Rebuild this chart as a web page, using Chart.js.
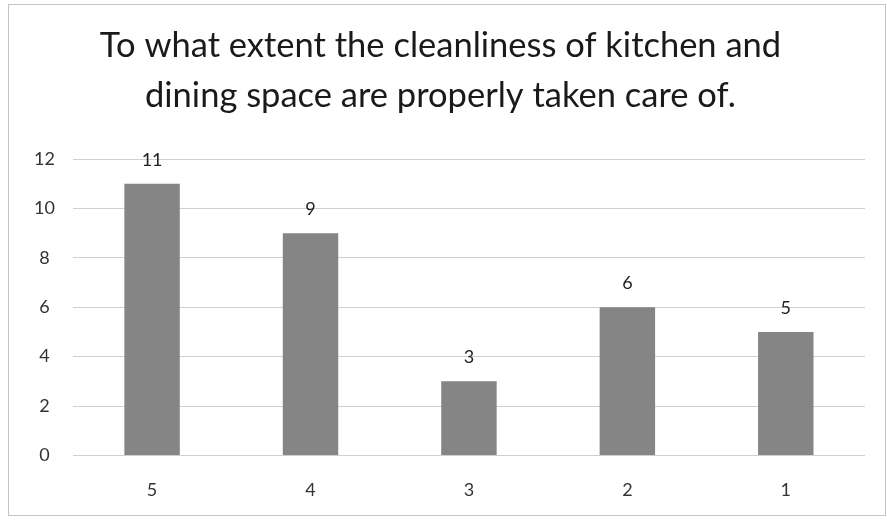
<!DOCTYPE html>
<html>
<head>
<meta charset="utf-8">
<script src="https://cdn.jsdelivr.net/npm/chart.js@4"></script>
<style>
html,body{margin:0;padding:0;background:#fff;}
#wrap{width:887px;height:529px;position:relative;}
</style>
</head>
<body>
<div id="wrap"><canvas id="c" width="887" height="529"></canvas></div>
<script>
const categories = ["5", "4", "3", "2", "1"];
const responses = [11, 9, 3, 6, 5];
const yTicks = [0, 2, 4, 6, 8, 10, 12];
const titleLines = ["To what extent the cleanliness of kitchen and", "dining space are properly taken care of."];

const frame = {
  id: 'frame',
  beforeDraw(chart) {
    const ctx = chart.ctx;
    ctx.save();
    ctx.fillStyle = '#ffffff';
    ctx.fillRect(0, 0, chart.width, chart.height);
    ctx.strokeStyle = '#c4c4c4';
    ctx.lineWidth = 1;
    ctx.strokeRect(8.5, 4.5, chart.width - 10, 511);
    ctx.restore();
  }
};

const valueLabels = {
  id: 'valueLabels',
  afterDatasetsDraw(chart) {
    const ctx = chart.ctx;
    const meta = chart.getDatasetMeta(0);
    ctx.save();
    ctx.font = '18px Lato, "Open Sans", sans-serif';
    ctx.fillStyle = '#222';
    ctx.textAlign = 'center';
    ctx.textBaseline = 'middle';
    meta.data.forEach((bar, i) => {
      ctx.fillText(String(chart.data.datasets[0].data[i]), bar.x, bar.y - 24);
    });
    ctx.restore();
  }
};

new Chart(document.getElementById('c'), {
  type: 'bar',
  data: {
    labels: categories,
    datasets: [{
      data: responses,
      backgroundColor: '#858585',
      borderWidth: 0,
      categoryPercentage: 1.0,
      barPercentage: 0.35
    }]
  },
  options: {
    responsive: false,
    animation: false,
    devicePixelRatio: 1,
    layout: { padding: { top: 17, left: 16, right: 22, bottom: 12 } },
    plugins: {
      legend: { display: false },
      tooltip: { enabled: false },
      title: {
        display: true,
        text: titleLines,
        color: '#1a1a1a',
        font: { family: 'Lato, "Open Sans", sans-serif', size: 34.5, weight: 'normal', lineHeight: 1.45 },
        padding: { top: 4, bottom: 38 }
      }
    },
    scales: {
      x: {
        grid: { display: false },
        border: { display: false },
        ticks: { color: '#333', font: { family: 'Lato, "Open Sans", sans-serif', size: 18 }, padding: 16 }
      },
      y: {
        min: 0, max: 12,
        afterBuildTicks(axis) { axis.ticks = yTicks.map(v => ({ value: v })); },
        grid: { color: '#cfcfcf', lineWidth: 1, drawTicks: false },
        border: { display: false },
        ticks: { color: '#333', font: { family: 'Lato, "Open Sans", sans-serif', size: 18 }, padding: 18, crossAlign: 'center' }
      }
    }
  },
  plugins: [frame, valueLabels]
});
</script>
</body>
</html>
